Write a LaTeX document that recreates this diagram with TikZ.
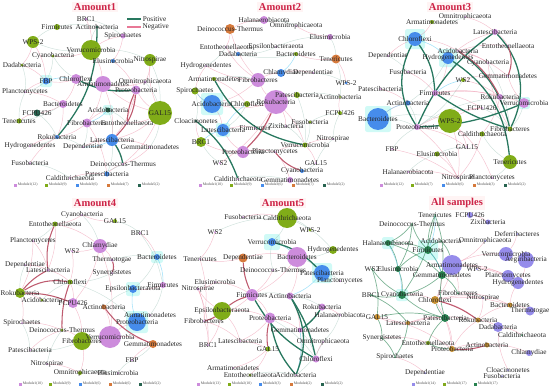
\documentclass[tikz,border=0pt]{standalone}
\usepackage{fontspec}
\setmainfont{Liberation Serif}
\usepackage{tikz}

\definecolor{m1}{RGB}{205,140,220}
\definecolor{m2}{RGB}{128,172,24}
\definecolor{m3}{RGB}{70,140,235}
\definecolor{m4}{RGB}{214,122,60}
\definecolor{m5}{RGB}{40,100,80}
\definecolor{s1}{RGB}{150,140,235}
\definecolor{s2}{RGB}{130,170,30}
\definecolor{s3}{RGB}{40,130,80}
\definecolor{s4}{RGB}{200,145,50}
\definecolor{posc}{RGB}{40,120,95}
\definecolor{negc}{RGB}{232,120,150}
\definecolor{tnegc}{RGB}{190,90,110}
\definecolor{ttlc}{RGB}{205,35,70}
\definecolor{glowc}{RGB}{150,245,235}

\pgfdeclarelayer{bg}
\pgfsetlayers{bg,main}

\tikzset{
  bub/.style={circle, inner sep=0pt, draw=none},
  lab/.style={font=\fontsize{6.2}{6.5}\selectfont, inner sep=0pt, text=black!85},
  ttl/.style={font=\fontsize{9}{10}\selectfont\bfseries, text=ttlc, fill=pink!18, inner sep=1.5pt},
  negl/.style={draw=negc, opacity=0.45, line width=0.4pt},
  posl/.style={draw=posc!55, opacity=0.4, line width=0.4pt},
  tpos/.style={draw=posc, line width=1.1pt},
  tneg/.style={draw=tnegc, line width=0.9pt},
  mpos/.style={draw=s3, opacity=0.6, line width=0.6pt},
  hl/.style={draw=cyan!70, opacity=0.5, line width=0.5pt},
  glow/.style={fill=glowc, opacity=0.45, rounded corners=2pt, inner sep=0pt},
  legsq/.style={fill, minimum size=0.09cm, inner sep=0pt},
  legtx/.style={font=\fontsize{3.2}{3.5}\selectfont, inner sep=0.5pt, text=black!70, anchor=west}
}

% bubbles first, then their names on top
\newcommand{\taxa}[2]{%
  \foreach \n/\x/\y/\m/\rad/\lbl in {#2}{\node[bub, fill=\m, minimum size=\rad*0.06cm] (#1\n) at (\x,\y) {};}
  \foreach \n/\x/\y/\m/\rad/\lbl in {#2}{\node[lab] at (\x,\y) {\lbl};}}
\newcommand{\links}[3]{\foreach \u/\v in {#3}{\draw[#2] (#1\u) to[bend left=12] (#1\v);}}

\begin{document}
\begin{tikzpicture}[x=0.03cm, y=-0.03cm]
\useasboundingbox (0,0) rectangle (550,390);

% ---------- titles
\node[ttl] (t1) at (95,7) {Amount1};
\node[ttl] (t2) at (280,7) {Amount2};
\node[ttl] (t3) at (450,7) {Amount3};
\node[ttl] (t4) at (95,203) {Amount4};
\node[ttl] (t5) at (283,203) {Amount5};
\node[ttl] (t6) at (457,203) {All samples};

% ---------- Amount1
\taxa{a1}{brc/86/19/m1/1.5/BRC1, fir/57/27/m2/3/Firmicutes, act/97/27/m5/1.5/Actinobacteria,
  spi/123/36/m1/2.5/Spirochaetes, wps/33/42/m2/6/WPS-2, ver/91/50/m2/10/Verrucomicrobia,
  cya/53/56/m2/1.5/Cyanobacteria, ela/113/61/m3/2/Elusimicrobia, nit/150/60/m2/6/Nitrospirae,
  dad/22/65/m2/1.5/Dadabacteria, fbp/46/81/m3/3.5/FBP, chl/76/79/m1/5/Chloroflexi,
  arm/103/84/m1/8/Armatimonadetes, omn/145/82/m1/1.5/Omnitrophicaeota, pro/136/90/m1/4.5/Proteobacteria,
  pla/25/92/m1/1/Planctomycetes, bac/63/104/m1/4/Bacteroidetes, gal/160/113/m2/12/GAL15,
  fcp/37/113/m5/3.5/FCPU426, aci/108/110/m5/2.5/Acidobacteria, ten/19/121/m2/2.5/Tenericutes,
  fib/87/123/m1/4.5/Fibrobacteres, ent/127/123/m1/1.5/Entotheonellaeota, rok/57/137/m3/2/Rokubacteria,
  lat/112/140/m3/6/Latescibacteria, hyd/30/146/m1/1/Hydrogenedentes, dep/83/147/m1/1/Dependentiae,
  gem/150/147/m1/1/Gemmatimonadetes, fus/30/163/m1/1/Fusobacteria, dei/123/164/m1/1/Deinococcus-Thermus,
  pat/107/174/m3/2.5/Patescibacteria, cal/70/178/m1/1/Caldithrichaeota}

% ---------- Amount2
\taxa{a2}{hal/264/20/m1/4/Halanaerobiacota, omn/296/26/m1/1/Omnitrophicaeota, dei/230/29/m4/5/Deinococcus-Thermus,
  ela/330/37/m1/3/Elusimicrobia, ent/226/47/m1/1/Entotheonellaeota, eps/276/47/m1/1/Epsilonbacteraeota,
  dad/238/54/m3/2/Dadabacteria, bac/296/54/m2/2/Bacteroidetes, ten/336/59/m4/4.5/Tenericutes,
  hyd/206/66/m1/1/Hydrogenedentes, chla/281/73/m3/4/Chlamydiae, dep/313/73/m1/1/Dependentiae,
  arm/214/79/m2/2/Armatimonadetes, fib/258/80/m1/7/Fibrobacteres, wps/346/83/m3/1.5/WPS-2,
  spi/195/91/m2/3.5/Spirochaetes, pat/297/95/m2/3/Patescibacteria, act/340/97/m2/1/Actinobacteria,
  aci/212/104/m3/9/Acidobacteria, chl/247/104/m2/3/Chloroflexi, rok/276/102/m1/12/Rokubacteria,
  fcp/340/113/m2/2/FCPU426, clo/196/121/m5/1.5/Cloacimonetes, lat/223/130/m3/6/Latescibacteria,
  fir/255/128/m1/1/Firmicutes, zix/286/126/m1/1/Zixibacteria, fus/310/122/m2/1.5/Fusobacteria,
  brc/201/142/m2/5/BRC1, nit/333/139/m1/1/Nitrospirae, ver/305/145/m2/2.5/Verrucomicrobia,
  pro/243/152/m1/6/Proteobacteria, pla/275/152/m1/1/Planctomycetes, ws/220/163/m1/1/WS2,
  gal/316/163/m1/1/GAL15, cya/302/171/m3/2/Cyanobacteria, cal/238/179/m1/1/Caldithrichaeota,
  gem/290/180/m1/3/Gemmatimonadetes}

% ---------- Amount3
\taxa{a3}{omn/465/17/m1/1/Omnitrophicaeota, arm/432/22/m2/2/Armatimonadetes, lat/495/32/m1/3/Latescibacteria,
  chl/415/39/m3/7/Chloroflexi, ent/508/46/m1/1/Entotheonellaeota, aci/458/51/m1/1/Acidobacteria,
  dep/388/56/m1/1/Dependentiae, hyd/448/58/m3/6/Hydrogenedentes, cya/488/63/m1/1/Cyanobacteria,
  fus/408/72/m1/1/Fusobacteria, gem/508/76/m1/1/Gemmatimonadetes, ws/463/80/m2/2/WS2,
  pat/380/89/m1/1/Patescibacteria, fir/435/93/m1/3/Firmicutes, rok/500/97/m1/3/Rokubacteria,
  ver/524/103/m1/5/Verrucomicrobia, act/408/103/m3/2.5/Actinobacteria, fcp/482/108/m1/1/FCPU426,
  bac/378/119/m3/11/Bacteroidetes, wps/450/121/m2/12/WPS-2, pro/417/127/m1/3/Proteobacteria,
  fib/510/129/m2/2.5/Fibrobacteres, cal/482/134/m2/2.5/Caldithrichaeota, fbp/392/149/m1/1/FBP,
  gal/467/147/m1/1/GAL15, ela/437/154/m2/2.5/Elusimicrobia, ten/510/162/m2/7/Tenericutes,
  hal/408/172/m1/1/Halanaerobiacota, nit/458/178/m1/1/Nitrospirae, pla/492/178/m1/1/Planctomycetes}

% ---------- Amount4
\taxa{a4}{cya/82/215/m1/1/Cyanobacteria, gal/115/221/m2/2/GAL15, ent/55/224/m2/2.5/Entotheonellaeota,
  brc/140/233/m1/1/BRC1, pla/33/241/m1/1/Planctomycetes, chla/100/246/m1/7/Chlamydiae,
  ws/72/251/m1/1/WS2, the/112/260/m1/1.5/Thermotogae, bac/157/257/m3/3/Bacteroidetes,
  dep/25/265/m1/1/Dependentiae, lat/48/270/m1/1.5/Latescibacteria, syn/112/273/m1/1/Synergistetes,
  chl/70/282/m2/2.5/Chloroflexi, fir/163/285/m1/3/Firmicutes, rok/20/293/m2/5/Rokubacteria,
  eps/133/289/m3/4/Epsilonbacteraeota, aci/42/300/m2/1.5/Acidobacteria, fcp/73/303/m1/5/FCPU426,
  act/104/307/m4/2.5/Actinobacteria, arm/150/315/m1/1/Armatimonadetes, pro/137/322/m3/9/Proteobacteria,
  spi/22/323/m1/1/Spirochaetes, dei/62/330/m2/1.5/Deinococcus-Thermus, ver/110/337/m1/11/Verrucomicrobia,
  fib/82/341/m2/9/Fibrobacteres, gem/153/344/m4/4/Gemmatimonadetes, pat/30/350/m1/1/Patescibacteria,
  fbp/132/360/m1/1/FBP, nit/47/364/m1/1/Nitrospirae, omn/80/373/m2/2/Omnitrophicaeota,
  ela/118/373/m1/1/Elusimicrobia}

% ---------- Amount5
\taxa{a5}{fus/243/217/m1/1/Fusobacteria, cal/287/218/m2/10/Caldithrichaeota, ws/215/232/m1/1/WS2,
  wps/310/230/m2/1.5/WPS-2, ver/272/242/m3/4/Verrucomicrobia, hyd/333/250/m2/4/Hydrogenedentes,
  dep/243/258/m4/4.5/Dependentiae, ten/200/259/m1/1/Tenericutes, bac/297/257/m1/10/Bacteroidetes,
  dei/273/270/m1/1/Deinococcus-Thermus, pat/322/273/m3/8/Patescibacteria, pla/340/281/m1/1/Planctomycetes,
  ela/215/282/m1/1/Elusimicrobia, nit/198/289/m1/1.5/Nitrospirae, fir/252/295/m1/6/Firmicutes,
  act/290/296/m1/3.5/Actinobacteria, eps/222/311/m2/9/Epsilonbacteraeota, rok/322/307/m1/3.5/Rokubacteria,
  hal/340/315/m1/1/Halanaerobiacota, fib/204/321/m1/1/Fibrobacteres, pro/270/318/m1/5.5/Proteobacteria,
  gem/300/330/m1/2.5/Gemmatimonadetes, lat/240/341/m1/1/Latescibacteria, omn/323/342/m1/1/Omnitrophicaeota,
  brc/208/345/m1/1/BRC1, gal/268/349/m2/2.5/GAL15, chl/316/359/m1/3.5/Chloroflexi,
  arm/233/368/m1/1/Armatimonadetes, ent/250/375/m2/1.5/Entotheonellaeota, aci/296/375/m1/1/Acidobacteria}

% ---------- All samples
\taxa{a6}{ten/435/215/s3/1/Tenericutes, fcp/470/215/s1/3/FCPU426, dei/412/224/s3/1/Deinococcus-Thermus,
  zix/488/222/s1/2.5/Zixibacteria, def/517/234/s1/1/Deferribacteres, hal/388/243/s3/3/Halanaerobiacota,
  aci/441/241/s3/1/Acidobacteria, omn/485/241/s1/1/Omnitrophicaeota, fir/428/250/s3/4/Firmicutes,
  ver/506/254/s1/7/Verrucomicrobia, aeg/526/260/s1/8/Aegiribacteria, arm/452/265/s1/10/Armatimonadetes,
  wps/477/269/s1/1/WPS-2, ws/372/269/s3/1/WS2, ela/398/269/s3/3/Elusimicrobia,
  gem/442/275/s3/4/Gemmatimonadetes, pla/508/276/s1/6/Planctomycetes, hyd/518/283/s1/6/Hydrogenedentes,
  brc/371/295/s3/1/BRC1, cya/402/295/s3/4/Cyanobacteria, fib/458/293/s3/1/Fibrobacteres,
  chl/435/300/s4/4/Chloroflexi, nit/483/298/s1/1/Nitrospirae, bac/510/305/s4/2.5/Bacteroidetes,
  the/530/311/s1/4.5/Thermotogae, gal/377/317/s4/3/GAL15, pat/445/318/s3/4/Patescibacteria,
  lat/408/323/s4/2/Latescibacteria, rok/478/320/s4/2.5/Rokubacteria, dad/498/327/s1/5/Dadabacteria,
  cal/522/335/s3/1/Caldithrichaeota, syn/382/338/s3/1/Synergistetes, ent/428/343/s2/2/Entotheonellaeota,
  pro/452/349/s4/3/Proteobacteria, act/487/345/s4/2.5/Actinobacteria, chla/529/353/s1/3/Chlamydiae,
  spi/395/357/s3/1/Spirochaetes, dep/425/373/s1/1/Dependentiae, clo/508/370/s1/1/Cloacimonetes,
  fus/502/376/s1/1/Fusobacteria}

% ---------- legends
\coordinate (pa) at (127,19); \coordinate (pb) at (141,19);
\coordinate (na) at (127,27); \coordinate (nb) at (141,27);
\draw[tpos] (pa) -- (pb) node[lab, right=1pt] {Positive};
\draw[tneg, draw=negc] (na) -- (nb) node[lab, right=1pt] {Negative};

\foreach \c/\lbl [count=\i from 0] in {m1/{Module1(12)}, m2/{Module2(9)}, m3/{Module3(6)}, m4/{Module4(7)}, m5/{Module5(2)}}
  {\node[legsq, fill=\c] at (15+\i*31,185) {}; \node[legtx] at (17+\i*31,185) {\lbl};}
\foreach \c/\lbl [count=\i from 0] in {m1/{Module1(10)}, m2/{Module2(9)}, m3/{Module3(6)}, m4/{Module4(7)}, m5/{Module5(2)}}
  {\node[legsq, fill=\c] at (200+\i*31,185) {}; \node[legtx] at (202+\i*31,185) {\lbl};}
\foreach \c/\lbl [count=\i from 0] in {m1/{Module1(12)}, m2/{Module2(7)}, m3/{Module3(6)}, m4/{Module4(3)}, m5/{Module5(2)}}
  {\node[legsq, fill=\c] at (381+\i*31,185) {}; \node[legtx] at (383+\i*31,185) {\lbl};}
\foreach \c/\lbl [count=\i from 0] in {m1/{Module1(10)}, m2/{Module2(9)}, m3/{Module3(6)}, m4/{Module4(6)}, m5/{Module5(2)}}
  {\node[legsq, fill=\c] at (20+\i*30,384) {}; \node[legtx] at (22+\i*30,384) {\lbl};}
\foreach \c/\lbl [count=\i from 0] in {m1/{Module1(13)}, m2/{Module2(10)}, m3/{Module3(3)}, m4/{Module4(2)}, m5/{Module5(2)}}
  {\node[legsq, fill=\c] at (198+\i*31,384) {}; \node[legtx] at (200+\i*31,384) {\lbl};}
\foreach \c/\lbl [count=\i from 0] in {s1/{Module1(14)}, s2/{Module2(17)}, s3/{Module3(17)}}
  {\node[legsq, fill=\c] at (413+\i*31,384) {}; \node[legtx] at (415+\i*31,384) {\lbl};}

% ---------- edges and glows
\begin{pgfonlayer}{bg}
  \foreach \g/\s in {a1fbp/12, a1aci/10, a2aci/22, a2lat/14, a3chl/20, a3hyd/18, a3bac/26, a3ver/12,
                     a4pro/22, a4eps/14, a4bac/12, a5pat/20, a5ver/16, a6fir/20, a6hal/12, a6cya/12}
    \node[glow, minimum size=\s*0.03cm] at (\g) {};

  \links{a1}{negl}{gal/arm, gal/pro, gal/lat, gal/ent, gal/nit, arm/chl, arm/fib, pro/ent, pro/lat, lat/gem,
    lat/dei, fib/aci, fib/rok, chl/fbp, chl/bac, bac/fcp, bac/rok, ver/spi, ver/arm, ver/cya, wps/fbp, wps/dad,
    nit/omn, spi/ela, dep/lat, pat/dei, cal/pat, fus/rok, hyd/rok, ten/fcp, pla/fbp, pla/bac, omn/arm, ela/pro,
    brc/ver, gem/dei, gal/dei, arm/lat, fib/pat, dad/fbp}
  \links{a1}{posl}{ver/act, ver/wps, ver/nit, wps/fir, fir/act, fbp/pla, aci/lat, aci/ent, rok/hyd, rok/dep,
    lat/pat, fus/cal, gal/gem, dad/pla, ten/pla, cya/fbp, omn/gal, brc/spi, dei/cal, chl/cya, fib/dep, bac/ten,
    nit/gal, fcp/rok}
  \links{a1}{hl}{fbp/chl, aci/fib, lat/dep}
  \draw[tpos] (a1rok) to[bend right=20] (a1act);
  \draw[tpos] (a1chl) to[bend right=15] (a1pro);
  \draw[tpos] (a1lat) to[bend left=10] (a1dei);
  \draw[tneg] (a1pro) to[bend left=20] (a1lat);
  \draw[tneg] (a1pro) to[bend right=10] (a1ent);

  \links{a2}{negl}{rok/fib, rok/pro, rok/chl, rok/pat, rok/aci, rok/zix, fib/aci, fib/chla, fib/ent, fib/dei,
    pro/pla, pro/lat, pro/brc, pla/gem, dei/hal, dei/ent, aci/spi, aci/lat, brc/clo, lat/fir, chla/dep, ten/bac,
    ten/wps, ver/gal, ver/nit, ela/omn, spi/hyd, arm/chl, fcp/act, rok/ws, pla/ver, rok/ver, fib/hyd}
  \links{a2}{posl}{arm/fib, bac/dad, eps/dad, pat/act, pat/ver, fus/fcp, fus/ver, chl/lat, zix/ver, gal/cya,
    nit/fcp, ws/brc, cal/gem, hal/omn, ela/ten, dep/wps, spi/clo, ent/hyd, fir/zix, eps/ela, ten/act, gal/nit}
  \links{a2}{hl}{bac/chla, aci/spi, lat/chl, brc/lat}
  \draw[tpos] (a2arm) to[bend right=25] (a2ver);
  \draw[tpos] (a2clo) to[bend left=15] (a2cal);
  \draw[tneg] (a2rok) to[bend left=10] (a2pro);
  \draw[tneg] (a2pla) to[bend right=15] (a2cya);

  \links{a3}{negl}{fir/rok, fir/ver, aci/ent, aci/gem, aci/cya, chl/aci, hyd/lat, hyd/fir, ws/rok, ws/gem,
    pro/fcp, pro/gal, pro/nit, wps/nit, wps/pla, wps/gal, fib/cya, cal/nit, ela/nit, hal/nit, fbp/nit, lat/ent,
    rok/cal, dep/chl, fus/fir, pat/act, bac/act, ver/gem, omn/lat, arm/chl, wps/fcp, fir/fcp}
  \links{a3}{posl}{pro/rok, ws/pro, act/pro, ver/fib, ten/pla, ten/cal, rok/ver, ela/gal, fcp/fib, omn/arm,
    hyd/act, dep/fus, bac/wps, bac/pro, cya/fib, fbp/pro, hal/ela}
  \links{a3}{hl}{chl/hyd, bac/act, fir/ws}
  \draw[tpos] (a3chl) to[bend right=30] (a3pro);
  \draw[tpos] (a3pro) to[bend left=15] (a3lat);
  \draw[tpos] (a3lat) to[bend left=35] (a3fib);
  \draw[tpos] (a3fir) to[bend right=8] (a3fib);
  \draw[tpos] (a3aci) to[bend left=20] (a3fib);
  \draw[tpos] (a3hyd) to[bend left=25] (a3ten);
  \draw[tpos] (a3chl) to[bend left=15] (a3fir);
  \draw[tpos] (a3pro) to[bend right=10] (a3ver);
  \draw[tneg] (a3aci) to[bend left=15] (a3rok);
  \draw[tneg] (a3ent) to[bend left=20] (a3gem);

  \links{a4}{negl}{ent/lat, chl/fcp, act/ver, rok/aci, rok/spi, fcp/fib, dei/fib, ver/pro, ver/gem, chla/ws,
    chla/ver, pla/lat, dep/lat, pat/dei, nit/omn, fib/omn, gal/cya, brc/bac, fir/eps, fbp/gem, chla/the, lat/chl,
    ws/chl, spi/dei, cya/ent, ent/chla, pla/rok, chla/fcp}
  \links{a4}{posl}{bac/eps, the/bac, chl/pro, rok/dep, aci/chl, act/eps, pro/arm, fib/pat, nit/dei, omn/ela,
    ela/fbp, gal/brc, syn/chl, ent/pla, cya/chla, fir/arm, spi/pat, fib/ver, brc/fir, gem/fbp}
  \links{a4}{hl}{pro/eps, bac/fir}
  \draw[tneg] (a4ent) to[bend right=15] (a4lat);
  \draw[tneg] (a4lat) to[bend right=10] (a4rok);
  \draw[tneg] (a4rok) to[bend left=20] (a4chl);
  \draw[tneg] (a4chl) to[bend right=10] (a4dei);
  \draw[tneg] (a4rok) to[bend left=10] (a4fcp);
  \draw[tneg] (a4the) to[bend left=20] (a4syn);
  \draw[tneg] (a4act) to[bend right=15] (a4gem);

  \links{a5}{negl}{fir/pro, fir/fib, eps/pro, eps/nit, eps/brc, pro/lat, pro/gem, fib/lat, fib/brc, dep/ten,
    ela/nit, ela/fir, lat/gal, gal/ent, gal/arm, bac/act, bac/fir, act/gem, rok/hal, ws/ten, fus/cal, dei/fir,
    chl/omn, nit/fib, dep/bac, eps/lat, nit/brc, ten/fib}
  \links{a5}{posl}{rok/gem, gem/aci, cal/ver, cal/hyd, cal/wps, bac/pat, pat/pla, hyd/bac, act/rok, gem/chl,
    omn/aci, dei/ver, pro/chl, fir/act, ver/bac, ent/aci, ws/cal, hal/omn}
  \links{a5}{hl}{ver/bac, pat/act, gem/aci}
  \draw[tpos] (a5act) to[bend left=25] (a5aci);
  \draw[tpos] (a5act) to[bend left=10] (a5chl);
  \draw[tpos] (a5fir) to[bend right=15] (a5chl);
  \draw[tpos] (a5ver) to[bend left=15] (a5pat);
  \draw[tpos] (a5rok) to[bend left=10] (a5gem);
  \draw[tpos] (a5pro) to[bend right=15] (a5aci);
  \draw[tneg] (a5fir) to[bend right=10] (a5eps);
  \draw[tneg] (a5eps) to[bend left=10] (a5fib);
  \draw[tneg] (a5pro) to[bend right=10] (a5gal);
  \draw[tneg] (a5dep) to[bend right=10] (a5fir);

  \links{a6}{negl}{arm/pla, arm/hyd, arm/ver, arm/chl, arm/fib, chl/pro, chl/rok, chl/bac, pro/act, pro/rok,
    rok/dad, rok/bac, act/chla, lat/gal, lat/pat, pat/pro, bac/the, bac/hyd, nit/rok, fib/bac, gem/chl, cya/chl,
    fcp/zix, omn/arm, wps/pla, dad/cal, syn/ent, spi/dep, lat/rok, gal/pro, chl/nit, aeg/hyd, def/ver, clo/dad}
  \links{a6}{mpos}{hal/fir, hal/ela, fir/gem, fir/ten, fir/dei, gem/cya, cya/brc, cya/ws, ela/cya, ela/fir,
    ten/gem, dei/hal, ws/gal, brc/lat, gal/syn, pat/cya, pat/gem, ent/pat, aci/arm, fir/aci, gem/fib, lat/spi,
    pro/ent, syn/spi, hal/gem, ten/cya, dei/ela, gal/pat, pat/chl}
  \links{a6}{hl}{fir/gem, hal/cya, ten/fir}
  \draw[tneg] (a6chl) to[bend left=10] (a6rok);
  \draw[tneg] (a6pro) to[bend right=10] (a6act);
\end{pgfonlayer}
\end{tikzpicture}
\end{document}
